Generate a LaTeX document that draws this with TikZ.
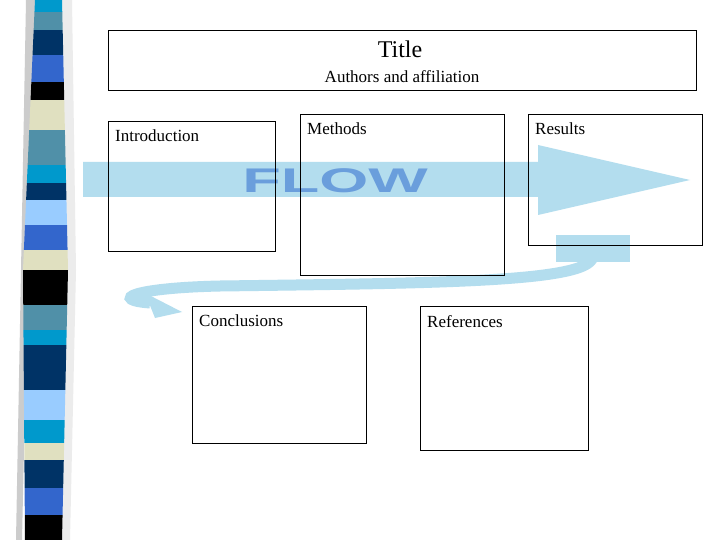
\documentclass[tikz,border=0pt]{standalone}
\usepackage{fontspec}
\setmainfont{Liberation Serif}
\newfontfamily\flowfont{Liberation Sans}
\begin{document}
\begin{tikzpicture}[x=1pt,y=-1pt,
  box/.style={draw=black,line width=0.8pt},
  lbl/.style={anchor=north west,inner sep=0pt,font=\fontsize{17}{19}\selectfont}]
\definecolor{flowblue}{HTML}{B3DDEE}
\definecolor{flowtext}{HTML}{6A9EDC}
\useasboundingbox (0,0) rectangle (720,540);
\fill[white] (0,0) rectangle (720,540);
% shadow of the strip
\fill[gray!40] (26,0) -- (38,0) -- (30,180) -- (22,540) -- (16,540) -- cycle;
\fill[gray!15] (62,0) -- (72,0) -- (76,270) -- (70,540) -- (62,540) -- cycle;
\begin{scope}
\clip (35,0) -- (62,0) -- (68,270) -- (62,540) -- (25,540) -- (23,270) -- cycle;
\foreach \a/\b/\c in {0/12/0099CC,12/30/5090A8,30/55/003366,55/82/3366CC,82/100/000000,100/130/E0E0C0,130/165/5090A8,165/183/0099CC,183/200/003366,200/225/99CCFF,225/250/3366CC,250/270/E0E0C0,270/305/000000,305/330/5090A8,330/345/0099CC,345/390/003366,390/420/99CCFF,420/443/0099CC,443/460/E0E0C0,460/488/003366,488/515/3366CC,515/540/000000}{
  \definecolor{sc}{HTML}{\c}
  \fill[sc] (0,\a) rectangle (100,\b);
}
\end{scope}
% FLOW arrow
\fill[flowblue] (83,162) -- (538,162) -- (538,145) -- (690,180) -- (538,215) -- (538,197) -- (83,197) -- cycle;
\node[inner sep=0pt,text=flowtext,font=\flowfont\bfseries\fontsize{36}{36}\selectfont,xscale=1.75,yscale=0.95] (flow) at (335,181) {FLOW};
% return arrow
\fill[flowblue] (556,235) rectangle (630,262);
\draw[flowblue,line width=11pt] (593,255) .. controls (595,282) and (450,283) .. (220,286) .. controls (130,288) and (110,300) .. (150,303);
\fill[flowblue] (145,293) -- (182,312) -- (155,318) -- cycle;
% boxes
\node[box,minimum width=588,minimum height=60,anchor=north west,inner sep=0pt] (title) at (108,30) {};
\node[inner sep=0pt,font=\fontsize{24}{26}\selectfont] (tt) at (400,49) {Title};
\node[inner sep=0pt,font=\fontsize{17}{19}\selectfont] (aa) at (402,77) {Authors and affiliation};
\node[box,minimum width=167,minimum height=130,anchor=north west,inner sep=0pt] (intro) at (108,121) {};
\node[lbl] (introl) at (115,130) {Introduction};
\node[box,minimum width=204,minimum height=161,anchor=north west,inner sep=0pt] (meth) at (300,114) {};
\node[lbl] (methl) at (307,123) {Methods};
\node[box,minimum width=174,minimum height=131,anchor=north west,inner sep=0pt] (res) at (528,114) {};
\node[lbl] (resl) at (535,123) {Results};
\node[box,minimum width=174,minimum height=137,anchor=north west,inner sep=0pt] (conc) at (192,306) {};
\node[lbl] (concl) at (199,315) {Conclusions};
\node[box,minimum width=168,minimum height=144,anchor=north west,inner sep=0pt] (ref) at (420,306) {};
\node[lbl] (refl) at (427,315) {References};
\end{tikzpicture}
\end{document}
